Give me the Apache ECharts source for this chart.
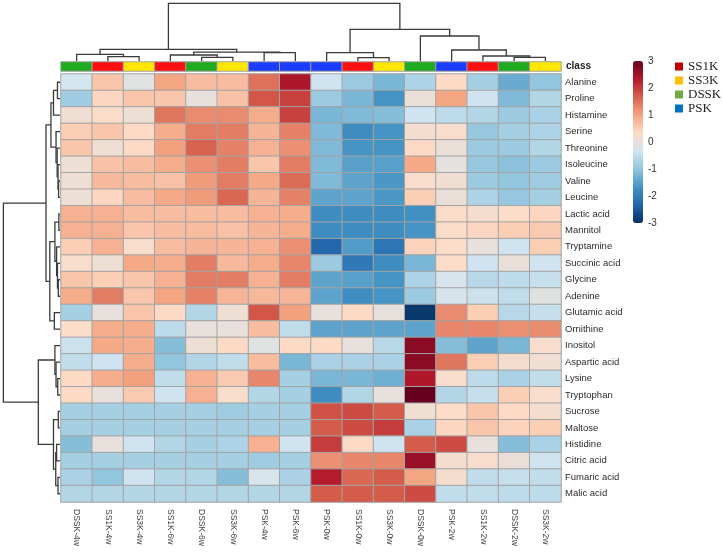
<!DOCTYPE html>
<html><head><meta charset="utf-8">
<script src="https://cdn.jsdelivr.net/npm/echarts@6/dist/echarts.min.js"></script>
<style>html,body{margin:0;padding:0;background:#fff}#c{width:723px;height:559px}</style>
</head><body><div id="c"></div>
<script>
const columns = ['DSSK-4w','SS1K-4w','SS3K-4w','SS1K-6w','DSSK-6w','SS3K-6w','PSK-4w','PSK-6w','PSK-0w','SS1K-0w','SS3K-0w','DSSK-0w','PSK-2w','SS1K-2w','DSSK-2w','SS3K-2w'];
const columnClass = ['DSSK','SS1K','SS3K','SS1K','DSSK','SS3K','PSK','PSK','PSK','SS1K','SS3K','DSSK','PSK','SS1K','DSSK','SS3K'];
const rows = ['Alanine','Proline','Histamine','Serine','Threonine','Isoleucine','Valine','Leucine','Lactic acid','Mannitol','Tryptamine','Succinic acid','Glycine','Adenine','Glutamic acid','Ornithine','Inositol','Aspartic acid','Lysine','Tryptophan','Sucrose','Maltose','Histidine','Citric acid','Fumaric acid','Malic acid'];
const values = [
  [-0.3,0.6,-0.1,1.0,0.7,0.7,1.5,2.4,-0.35,-0.9,-1.2,-0.7,0.35,-0.8,-1.35,-1.0],
  [-0.85,0.4,0.6,0.6,0,0.65,1.75,1.95,-0.9,-1.2,-1.65,0.05,1.0,-0.35,-1.15,-0.65],
  [0.15,0.3,0.1,1.45,1.25,1.25,0.9,1.95,-1.2,-1.15,-1.1,-0.35,-0.55,-0.65,-0.9,-0.75],
  [0.5,0.6,0.35,0.9,1.4,1.4,0.8,1.35,-1.15,-1.75,-1.65,0.2,0.25,-0.95,-0.8,-0.7],
  [0.6,0.15,0.35,1.05,1.65,1.35,0.85,1.2,-1.15,-1.65,-1.65,0.35,0.05,-0.9,-0.9,-0.65],
  [0.1,0.65,0.7,0.9,1.2,1.4,0.6,1.4,-1.15,-1.5,-1.5,0.95,-0.05,-0.95,-1.05,-0.9],
  [0.1,0.75,0.72,0.65,1.1,1.4,0.95,1.55,-1.15,-1.45,-1.6,0.25,0.15,-0.9,-1.0,-0.85],
  [0.1,0.4,0.7,0.95,1.1,1.6,0.8,1.35,-1.45,-1.45,-1.6,0.5,0.05,-0.7,-0.95,-0.8],
  [0.85,0.85,0.7,0.7,0.72,0.7,0.85,0.9,-1.75,-1.75,-1.75,-1.7,0.3,0.2,0.3,0.4],
  [0.85,0.85,0.6,0.7,0.72,0.65,0.8,0.9,-1.75,-1.75,-1.75,-1.65,0.3,0.4,0.5,0.55],
  [0.5,0.85,0.25,0.7,0.8,0.8,0.85,1.2,-2.3,-1.55,-2.1,0.45,0.3,0,-0.35,0.5],
  [0.25,0.1,0.95,0.9,1.4,0.75,0.9,1.3,-0.9,-2.05,-1.75,-1.2,0.3,-0.35,0.05,-0.35],
  [0.6,0.5,0.6,0.85,1.4,1.4,0.85,1.4,-1.45,-1.5,-1.65,-0.7,-0.25,-0.6,-0.55,-0.45],
  [0.9,1.4,0.6,1.0,1.35,0.8,0.75,0.8,-1.45,-1.75,-1.65,-0.9,-0.25,-0.4,-0.5,-0.1],
  [-0.8,0,0.6,0.35,-0.65,0.1,1.75,1.05,0,0.35,-0.02,-2.9,1.25,0.5,-0.6,-0.45],
  [0.3,0.9,0.9,-0.55,0,0,0.7,-0.5,-1.45,-1.45,-1.45,-1.45,1.3,1.3,1.2,1.25],
  [-0.4,0.95,0.9,-1.1,0.1,0.35,-0.1,0.35,0.35,0,-0.6,2.7,-1.1,-1.45,-1.2,0.25],
  [-0.5,-0.35,0.9,-1.0,-0.65,-0.5,0.72,-1.2,-0.75,-0.75,-0.75,2.7,1.45,0.5,0.2,0.15],
  [0.35,0.9,1.05,-0.5,0.85,0.55,1.3,-0.8,-1.2,-1.2,-1.3,2.35,0.25,-0.55,-0.75,-0.5],
  [0.35,0,0.55,-0.35,0.85,0.25,-0.65,-0.8,-1.75,-0.65,0,3.0,-0.65,-0.45,0.5,0.25],
  [-0.8,-0.8,-0.8,-0.8,-0.8,-0.85,-0.8,-0.8,1.8,1.85,1.7,0.15,0.3,0.6,0.35,0.2],
  [-0.8,-0.8,-0.8,-0.8,-0.8,-0.8,-0.8,-0.8,1.7,1.85,2.0,-0.75,0.4,0.6,0.45,0.5],
  [-1.1,0,-0.35,-0.65,-0.8,-0.7,0.85,-0.35,2.0,0.35,-0.35,1.7,1.85,0,-1.1,-0.75],
  [-0.8,-0.8,-0.8,-0.8,-0.8,-0.8,-0.85,-0.8,1.2,1.3,1.3,2.55,0.2,0.25,0.05,-0.35],
  [-0.75,-1.0,-0.35,-0.65,-0.65,-1.1,-0.25,-0.75,2.3,1.6,1.7,1.0,0.2,-0.5,-0.45,-0.5],
  [-0.65,-0.65,-0.65,-0.65,-0.65,-0.65,-0.65,-0.65,1.7,1.7,1.7,1.85,-0.5,-0.5,-0.55,-0.55]
];
const classNames = ['SS1K','SS3K','DSSK','PSK'];
const classBarColors = ['#ff1010','#ffe600','#20aa20','#1a3dff'];
const legendColors = ['#c00000','#ffc000','#70ad47','#0070c0'];
const heatColors = ['#053061','#2166ac','#4393c3','#92c5de','#d1e5f0','#fddbc7','#f4a582','#d6604d','#b2182b','#67001f'];
const scaleMin = -3, scaleMax = 3, scaleStep = 1;
// dendrograms: [left, right, mergeHeight]; leaves are indices
const colTree = [[[0,[1,2,0.75],1.16],[[3,[4,5,0.64],1.04],[6,7,1.45],1.55],2.03],
                 [[8,[9,10,0.57],1.44],[11,[12,[13,[14,15,0.64],0.87],1.91],4.33],5.49],10];
const rowTree = [[[[[0,1,0.45],2,1.15],[3,[4,[5,[6,7,0.25],0.35],0.5],0.7],1.6],
                  [[[8,9,0.2],[10,[11,[12,13,0.3],0.45],0.6],0.9],[14,15,1.0],1.8],2.47],
                 [[16,[17,[18,19,0.4],0.7],0.9],[[20,21,0.3],[[22,23,0.6],[24,25,0.35],0.75],1.15],3.83],10];

function walk(node, out, swap) {
  if (typeof node === 'number') return {pos: node + 0.5, h: 0};
  const l = walk(node[0], out, swap), r = walk(node[1], out, swap), h = node[2];
  const pts = [[l.pos,l.h],[l.pos,h],[r.pos,h],[r.pos,r.h]];
  out.push({coords: swap ? pts.map(p => [p[1], p[0]]) : pts});
  return {pos: (l.pos + r.pos) / 2, h};
}
const colLinks = []; walk(colTree, colLinks, false);
const rowLinks = []; walk(rowTree, rowLinks, true);

const heatData = [];
values.forEach((row, j) => row.forEach((v, i) => heatData.push([i, j, v])));
const classData = columnClass.map((c, i) => [i, 0, classNames.indexOf(c)]);

const FONT = 'Liberation Sans';
const chart = echarts.init(document.getElementById('c'));
const lineStyle = {color: '#3a3a3a', width: 1.3, opacity: 1};
chart.setOption({
  animation: false,
  backgroundColor: '#fff',
  grid: [
    {left: 61, top: 74, width: 500, height: 428},
    {left: 61, top: 62, width: 500, height: 9},
    {left: 61, top: 1, width: 500, height: 60},
    {left: 0, top: 74, width: 60, height: 428},
    {left: 643, top: 61, width: 1, height: 162}
  ],
  xAxis: [
    {gridIndex: 0, type: 'category', data: columns, position: 'bottom',
     axisLine: {show: false}, axisTick: {show: false},
     axisLabel: {rotate: -90, interval: 0, margin: 7, fontSize: 8.5, color: '#444', fontFamily: FONT}},
    {gridIndex: 1, type: 'category', data: columns, show: false},
    {gridIndex: 2, type: 'value', min: 0, max: columns.length, show: false},
    {gridIndex: 3, type: 'value', min: 0, max: 10.6, inverse: true, show: false},
    {gridIndex: 4, type: 'value', min: 0, max: 1, show: false}
  ],
  yAxis: [
    {gridIndex: 0, type: 'category', data: rows, inverse: true, position: 'right',
     axisLine: {show: false}, axisTick: {show: false},
     axisLabel: {interval: 0, margin: 4, fontSize: 9.5, color: '#2a2a2a', fontFamily: FONT}},
    {gridIndex: 1, type: 'category', data: ['class'], position: 'right',
     axisLine: {show: false}, axisTick: {show: false},
     axisLabel: {margin: 5, fontSize: 10, fontWeight: 'bold', color: '#222', fontFamily: FONT}},
    {gridIndex: 2, type: 'value', min: 0, max: 10.4, show: false},
    {gridIndex: 3, type: 'value', min: 0, max: rows.length, inverse: true, show: false},
    {gridIndex: 4, type: 'value', min: scaleMin, max: scaleMax, interval: scaleStep, position: 'right',
     axisLine: {show: false}, axisTick: {show: false}, splitLine: {show: false},
     axisLabel: {margin: 4, fontSize: 10, color: '#333', fontFamily: FONT}}
  ],
  visualMap: [
    {type: 'continuous', seriesIndex: 0, dimension: 2, min: scaleMin, max: scaleMax,
     calculable: false, left: 633, top: 61, itemWidth: 10, itemHeight: 162, padding: 0,
     inRange: {color: heatColors}, text: null, hoverLink: false},
    {type: 'piecewise', seriesIndex: 1, dimension: 2, show: false,
     pieces: classNames.map((n, k) => ({value: k, color: classBarColors[k]}))}
  ],
  legend: {
    orient: 'vertical', left: 670, top: 55, itemWidth: 8, itemHeight: 8, itemGap: 1,
    icon: 'rect', selectedMode: false, data: classNames,
    textStyle: {fontFamily: 'Liberation Serif', fontSize: 13, color: '#222'}
  },
  series: [
    {type: 'heatmap', xAxisIndex: 0, yAxisIndex: 0, data: heatData,
     itemStyle: {borderColor: '#a3a3a3', borderWidth: 1}, emphasis: {disabled: true}},
    {type: 'heatmap', xAxisIndex: 1, yAxisIndex: 1, data: classData,
     itemStyle: {borderColor: '#a3a3a3', borderWidth: 1}, emphasis: {disabled: true}},
    {type: 'lines', coordinateSystem: 'cartesian2d', xAxisIndex: 2, yAxisIndex: 2, polyline: true,
     data: colLinks, lineStyle: lineStyle, silent: true},
    {type: 'lines', coordinateSystem: 'cartesian2d', xAxisIndex: 3, yAxisIndex: 3, polyline: true,
     data: rowLinks, lineStyle: lineStyle, silent: true}
  ].concat(classNames.map((n, k) => ({
    name: n, type: 'scatter', xAxisIndex: 4, yAxisIndex: 4, data: [],
    itemStyle: {color: legendColors[k], opacity: 1}
  })))
});
</script></body></html>
